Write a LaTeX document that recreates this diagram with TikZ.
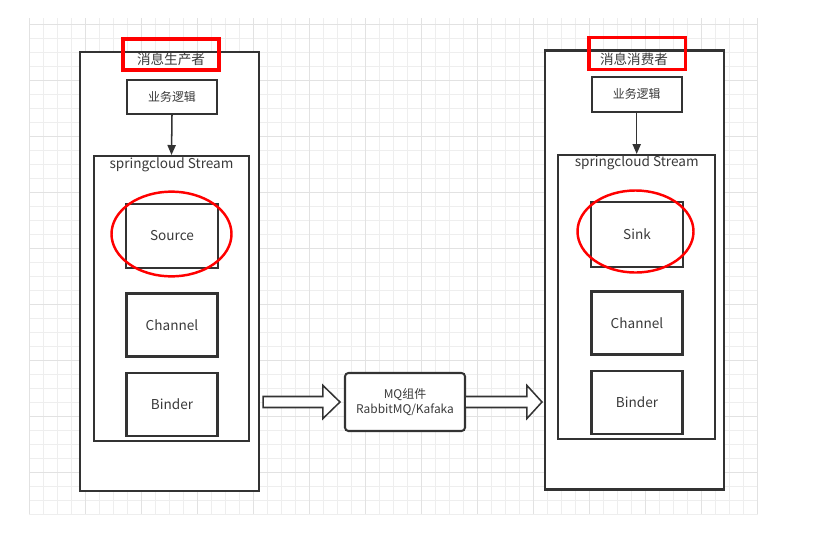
\documentclass[tikz,border=0pt]{standalone}
\usepackage{fontspec}
\newfontfamily\cjk{Noto Sans CJK SC}
\definecolor{gridminor}{HTML}{EEEEEE}
\definecolor{gridmajor}{HTML}{E2E2E2}
\definecolor{boxline}{HTML}{333333}
\definecolor{txtgray}{HTML}{3A3A3A}
\definecolor{markred}{HTML}{FF0000}
\usetikzlibrary{arrows.meta,positioning,calc}
\def\u{0.03cm}
\tikzset{
  box/.style={draw=boxline, line width=1.75pt, fill=white, inner sep=0pt, font=\cjk\fontsize{11.6}{13}\selectfont, text=txtgray},
  lbl/.style={font=\cjk\fontsize{11.6}{13}\selectfont, text=txtgray, inner sep=0pt},
  smallbox/.style={box, font=\cjk\fontsize{10.2}{12}\selectfont},
  redmark/.style={draw=markred, line width=2.6pt},
  flow/.style={draw=boxline, line width=1.3pt, -{Triangle[length=8.5pt, width=7pt]}},
  bigarrow/.style={draw=boxline, line width=1.3pt, fill=white, line join=miter}
}

\begin{document}
\begin{tikzpicture}[x=\u, y=-\u]
  \useasboundingbox (0,0) rectangle (832,549);
  \fill[white] (0,0) rectangle (832,549);

  % background grid
  \foreach \i in {0,...,52} \draw[gridminor, line width=0.7pt] ({29.3+14*\i},18) -- ({29.3+14*\i},514);
  \foreach \j in {0,...,35} \draw[gridminor, line width=0.7pt] (29,{24.3+14*\j}) -- (758,{24.3+14*\j});
  \foreach \i in {0,...,13} \draw[gridmajor, line width=0.7pt] ({29.3+56*\i},18) -- ({29.3+56*\i},514);
  \foreach \j in {0,...,8} \draw[gridmajor, line width=0.7pt] (29,{24.3+56*\j}) -- (758,{24.3+56*\j});

  % Producer
  \node[box, minimum width=179*\u, minimum height=439*\u] (prodOuter) at (169.5,271.5) {};
  \node[lbl] (prodTitle) at (171,59) {消息生产者};
  \node[smallbox, minimum width=90*\u, minimum height=34*\u] (prodLogic) at (172,97) {业务逻辑};
  \node[box, minimum width=155*\u, minimum height=285*\u] (prodStream) at (171.5,298.5) {};
  \node[lbl] (prodStreamLbl) at (171.5,165) {springcloud Stream};
  \node[box, minimum width=92*\u, minimum height=64*\u] (source) at (172,236) {Source};
  \node[box, minimum width=91*\u, minimum height=63*\u] (prodChannel) at (172,325) {Channel};
  \node[box, minimum width=91*\u, minimum height=63*\u] (prodBinder) at (172,404.5) {Binder};
  \draw[flow] (prodLogic.south) -- (prodStream.north);

  % Consumer
  \node[box, minimum width=179*\u, minimum height=439*\u] (consOuter) at (634.5,270) {};
  \node[lbl] (consTitle) at (634,59) {消息消费者};
  \node[smallbox, minimum width=90*\u, minimum height=35*\u] (consLogic) at (636.7,94.2) {业务逻辑};
  \node[box, minimum width=156.7*\u, minimum height=284*\u] (consStream) at (636.7,297) {};
  \node[lbl] (consStreamLbl) at (636.7,163) {springcloud Stream};
  \node[box, minimum width=92*\u, minimum height=65*\u] (sink) at (637,234.5) {Sink};
  \node[box, minimum width=91*\u, minimum height=63*\u] (consChannel) at (637,323) {Channel};
  \node[box, minimum width=91*\u, minimum height=63*\u] (consBinder) at (637,402.5) {Binder};
  \draw[flow] (consLogic.south) -- (consStream.north);

  % MQ middleware
  \node[smallbox, rounded corners=3pt, align=center, minimum width=120*\u, minimum height=58*\u, font=\cjk\fontsize{10.2}{13.5}\selectfont] (mq) at (405,402) {MQ组件\\RabbitMQ/Kafaka};

  % block arrows
  \coordinate (inA) at ($(prodOuter.east |- mq.center)+(3,0)$);
  \coordinate (inB) at ($(mq.west)+(-4,0)$);
  \coordinate (outA) at ($(mq.east)+(-1,0)$);
  \coordinate (outB) at ($(consOuter.west |- mq.center)+(-2,0)$);
  \draw[bigarrow] ($(inA)+(0,-5.5)$) -- ($(inB)+(-17,-5.5)$) -- ($(inB)+(-17,-16.5)$) -- (inB)
    -- ($(inB)+(-17,16.5)$) -- ($(inB)+(-17,5.5)$) -- ($(inA)+(0,5.5)$) -- cycle;
  \draw[bigarrow] ($(outA)+(0,-5.5)$) -- ($(outB)+(-15,-5.5)$) -- ($(outB)+(-15,-16.5)$) -- (outB)
    -- ($(outB)+(-15,16.5)$) -- ($(outB)+(-15,5.5)$) -- ($(outA)+(0,5.5)$) -- cycle;

  % red highlights
  \draw[redmark] (123,39) rectangle (219,70);
  \draw[redmark] (589,37.3) rectangle (685.7,69.3);
  \draw[redmark, line width=2.1pt] (171.5,234) ellipse [x radius=1.8cm, y radius=1.27cm];
  \draw[redmark, line width=2.1pt] (635.5,231.5) ellipse [x radius=1.74cm, y radius=1.23cm];
\end{tikzpicture}
\end{document}
